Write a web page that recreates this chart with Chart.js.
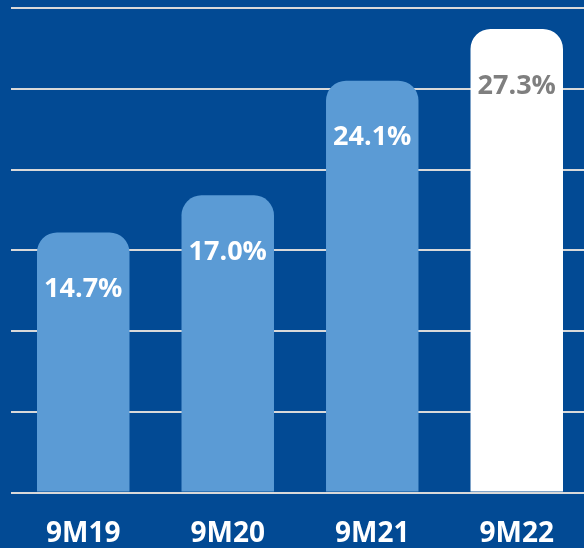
<!DOCTYPE html>
<html>
<head>
<meta charset="utf-8">
<script src="https://cdn.jsdelivr.net/npm/chart.js@4.4.1/dist/chart.umd.min.js"></script>
<style>
  html, body { margin: 0; padding: 0; overflow: hidden; background: #024a94; }
  #wrap { width: 590px; height: 548px; }
</style>
</head>
<body>
<div id="wrap"><canvas id="chart" width="590" height="548"></canvas></div>
<script>
const categories = ["9M19", "9M20", "9M21", "9M22"];
const values = [14.7, 17.0, 24.1, 27.3];
const barColors = ["#5b9bd5", "#5b9bd5", "#5b9bd5", "#ffffff"];
const labelColors = ["#ffffff", "#ffffff", "#ffffff", "#7f7f7f"];

// axis floor sits a little below zero in the original
const yMin = -1.4;
const yMax = 28.6;
const yStep = 5;

const FONT = "'Open Sans', 'DejaVu Sans', sans-serif";

// value labels inside the bars
const barLabels = {
  id: "barLabels",
  afterDatasetsDraw(chart) {
    const ctx = chart.ctx;
    const meta = chart.getDatasetMeta(0);
    ctx.save();
    ctx.font = "700 27px " + FONT;
    ctx.textAlign = "center";
    ctx.textBaseline = "middle";
    meta.data.forEach((bar, i) => {
      ctx.fillStyle = labelColors[i];
      ctx.fillText(values[i].toFixed(1) + "%", bar.x, bar.y + 57);
    });
    ctx.restore();
  },
};

new Chart(document.getElementById("chart"), {
  type: "bar",
  data: {
    labels: categories,
    datasets: [
      {
        data: values,
        base: yMin,
        backgroundColor: barColors,
        borderRadius: { topLeft: 20, topRight: 20, bottomLeft: 0, bottomRight: 0 },
        borderSkipped: "start",
        barPercentage: 0.8,
        categoryPercentage: 0.8,
      },
    ],
  },
  options: {
    responsive: false,
    animation: false,
    layout: { padding: { top: 8, left: 11, right: 1, bottom: 0 } },
    plugins: { legend: { display: false }, tooltip: { enabled: false } },
    scales: {
      x: {
        grid: { display: false, drawTicks: false },
        border: { display: false },
        ticks: {
          color: "#ffffff",
          font: { family: FONT, size: 28, weight: "700" },
          padding: 25,
        },
        afterFit(axis) {
          axis.height = 55.5;
        },
      },
      y: {
        min: yMin,
        max: yMax,
        afterBuildTicks(axis) {
          const ticks = [];
          for (let v = yMin; v <= yMax + 0.001; v += yStep) ticks.push({ value: v });
          axis.ticks = ticks;
        },
        grid: { color: "#d9d9d9", lineWidth: 2, drawTicks: false },
        border: { display: false },
        ticks: { display: false },
      },
    },
  },
  plugins: [barLabels],
});
</script>
</body>
</html>
